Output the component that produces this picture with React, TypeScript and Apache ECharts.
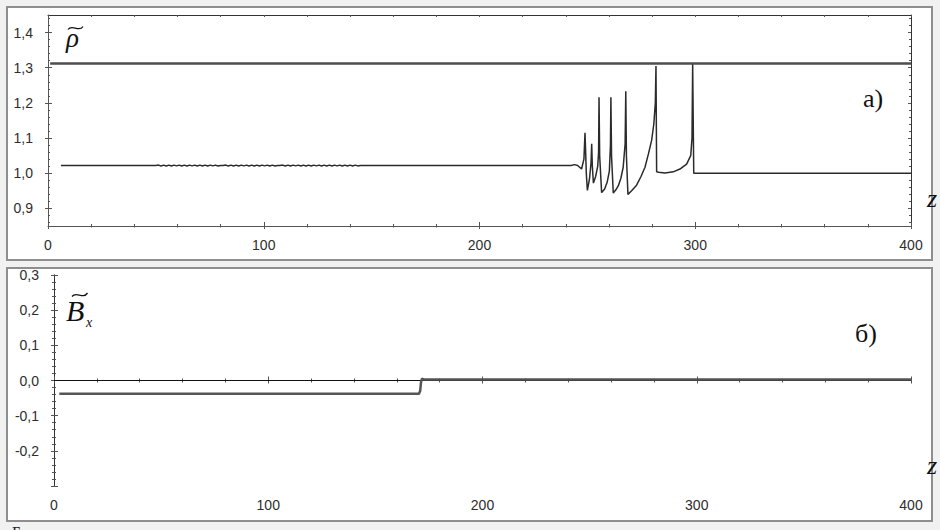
import React, { useEffect, useRef } from 'react';
import * as echarts from 'echarts';

// ---------- data ----------
const zLimits = [0, 400];
const rhoLimits = [0.85, 1.45];
const bxLimits = [-0.3, 0.3];
const rhoMajorValues = [0.9, 1.0, 1.1, 1.2, 1.3, 1.4];
const rhoMinorValues = [0.86, 0.88, 0.92, 0.94, 0.96, 0.98, 1.02, 1.04, 1.06, 1.08, 1.12, 1.14, 1.16, 1.18, 1.22, 1.24, 1.26, 1.28, 1.32, 1.34, 1.36, 1.38, 1.42, 1.44];

// upstream (compressed) density level
const rhoUpper: number[][] = [[1, 1.312], [400, 1.312]];

// density profile rho(z)
const rhoProfile: number[][] = [
  [6, 1.022], [50, 1.022],
  [51.2, 1.0232], [52.4, 1.0208], [53.6, 1.0232], [54.8, 1.0208], [56, 1.0232], [57.2, 1.0208], [58.4, 1.0231], [59.6, 1.0209],
  [60.8, 1.0232], [62, 1.0208], [63.2, 1.0232], [64.4, 1.0208], [65.6, 1.0231], [66.8, 1.0209], [68, 1.0232], [69.2, 1.0208],
  [70.4, 1.0232], [71.6, 1.0208], [72.8, 1.0232], [74, 1.0208], [75.2, 1.0231], [76.4, 1.0209], [77.6, 1.0232], [78.8, 1.0208],
  [80, 1.022], [81.2, 1.022], [82.4, 1.0232], [83.6, 1.0208], [84.8, 1.0232], [86, 1.0208], [87.2, 1.0232], [88.4, 1.0208],
  [89.6, 1.0231], [90.8, 1.0209], [92, 1.0232], [93.2, 1.0208], [94.4, 1.0232], [95.6, 1.0208], [96.8, 1.0232], [98, 1.0208],
  [99.2, 1.0231], [100.4, 1.0209], [101.6, 1.0232], [102.8, 1.0208], [104, 1.0232], [105.2, 1.0208], [106.4, 1.022], [107.6, 1.022],
  [108.8, 1.0232], [110, 1.0208], [111.2, 1.0232], [112.4, 1.0208], [113.6, 1.0231], [114.8, 1.0209], [116, 1.0232], [117.2, 1.0208],
  [118.4, 1.0232], [119.6, 1.0208], [120.8, 1.0232], [122, 1.0208], [123.2, 1.0231], [124.4, 1.0209], [125.6, 1.0232], [126.8, 1.0208],
  [128, 1.0232], [129.2, 1.0208], [130.4, 1.0232], [131.6, 1.0208], [132.8, 1.0231], [134, 1.0209], [135.2, 1.0232], [136.4, 1.0208],
  [137.6, 1.0232], [138.8, 1.0208], [140, 1.0232], [141.2, 1.0208], [142.4, 1.0231], [143.6, 1.0209], [144.8, 1.022],
  [242.5, 1.022], [244, 1.0245], [245.5, 1.022], [247.3, 1.012], [248.4, 1.04], [248.9, 1.115], [249.2, 1.06], [249.5, 1.0],
  [250, 0.951], [251, 0.985], [251.7, 1.03], [252, 1.084], [252.3, 1.02], [252.8, 0.972], [253.8, 0.99], [254.8, 1.02],
  [255.2, 1.06], [255.4, 1.216], [255.7, 1.05], [256.6, 0.945], [258, 0.955], [259.2, 0.975], [260.2, 1.007], [260.7, 1.08],
  [260.9, 1.216], [261.2, 1.05], [262, 0.944], [263.2, 0.953], [264.3, 0.964], [265.5, 0.985], [266.6, 1.017], [267.5, 1.084],
  [267.8, 1.233], [268.1, 1.05], [268.8, 0.94], [270.5, 0.95], [272.8, 0.966], [274.8, 0.99], [276.7, 1.017], [278.3, 1.055],
  [279.8, 1.094], [280.8, 1.14], [281.5, 1.2], [281.8, 1.305], [282.1, 1.004], [283, 1.003], [286, 1.0005], [289.8, 1.004],
  [292.9, 1.012], [296, 1.026], [297.9, 1.05], [298.5, 1.1], [298.8, 1.31], [299.3, 1.0], [400, 1.0],
];

// magnetic field component Bx(z)
const bxZero: number[][] = [[0, 0], [400, 0]];
const bxProfile: number[][] = [
  [2.5, -0.038], [170.3, -0.038], [170.9, -0.03], [171.3, -0.005], [171.7, 0.005], [172.5, 0.003], [400, 0.003],
];

// ---------- helpers ----------
const AX = '#555';
const LBL = '#2e2e2e';
const fmt = (v: number) => {
  const r = Math.round(v * 10) / 10;
  return (Math.abs(r) < 1e-9 ? '0.0' : r.toFixed(1)).replace('.', ',');
};
const labelStyle = { color: LBL, fontSize: 14, fontFamily: '"Liberation Sans", Arial, sans-serif' };

function xAxes(gridIndex: number) {
  const base = { gridIndex, type: 'value' as const, min: zLimits[0], max: zLimits[1], interval: 100, splitLine: { show: false }, minorSplitLine: { show: false } };
  return [
    { ...base, position: 'bottom', axisLine: { show: true, lineStyle: { color: AX, width: 1 } },
      axisTick: { show: true, inside: true, length: 4, lineStyle: { color: AX } },
      minorTick: { show: true, splitNumber: 5, length: 2, lineStyle: { color: AX } },
      axisLabel: { show: true, margin: 12, ...labelStyle } },
    { ...base, position: 'bottom', axisLine: { show: false },
      axisTick: { show: true, inside: false, length: 3, lineStyle: { color: AX } },
      minorTick: { show: true, splitNumber: 5, length: 1.5, lineStyle: { color: AX } },
      axisLabel: { show: false } },
    { ...base, position: 'top', axisLine: { show: true, lineStyle: { color: '#333', width: 1 } },
      axisTick: { show: true, inside: true, length: 2, lineStyle: { color: AX } },
      minorTick: { show: true, splitNumber: 5, length: 2, lineStyle: { color: AX } },
      axisLabel: { show: false } },
  ];
}

function App() {
  const ref = useRef<HTMLDivElement>(null);
  useEffect(() => {
    if (!ref.current) return;
    const chart = echarts.init(ref.current, undefined, { renderer: 'svg' });
    const rhoBase = { gridIndex: 0, type: 'value' as const, min: rhoLimits[0], max: rhoLimits[1], splitLine: { show: false } };
    const bxBase = { gridIndex: 1, type: 'value' as const, min: bxLimits[0], max: bxLimits[1], interval: 0.1, splitLine: { show: false }, minorSplitLine: { show: false } };
    const serif = '"Liberation Serif", "Times New Roman", serif';
    const option: any = {
      animation: false,
      backgroundColor: '#f1f1f1',
      grid: [
        { left: 48, top: 15, width: 863, height: 211 },
        { left: 54, top: 275, width: 857, height: 211 },
      ],
      xAxis: [...xAxes(0), ...xAxes(1)],
      yAxis: [
        // grid 0 (rho)
        { ...rhoBase, position: 'left', axisLine: { show: true, lineStyle: { color: AX } },
          axisTick: { show: true, inside: true, length: 4, customValues: rhoMajorValues, lineStyle: { color: AX } },
          axisLabel: { show: true, margin: 15, customValues: rhoMajorValues, formatter: fmt, ...labelStyle } },
        { ...rhoBase, position: 'left', axisLine: { show: false },
          axisTick: { show: true, inside: false, length: 3, customValues: rhoMajorValues, lineStyle: { color: AX } },
          axisLabel: { show: false } },
        { ...rhoBase, position: 'left', axisLine: { show: false },
          axisTick: { show: true, inside: true, length: 2, customValues: rhoMinorValues, lineStyle: { color: AX } },
          axisLabel: { show: false } },
        { ...rhoBase, position: 'right', axisLine: { show: true, lineStyle: { color: '#333' } },
          axisTick: { show: true, inside: true, length: 3, customValues: rhoMajorValues, lineStyle: { color: AX } },
          axisLabel: { show: false } },
        { ...rhoBase, position: 'right', axisLine: { show: false },
          axisTick: { show: true, inside: true, length: 2, customValues: rhoMinorValues, lineStyle: { color: AX } },
          axisLabel: { show: false } },
        // grid 1 (Bx)
        { ...bxBase, position: 'left', axisLine: { show: true, lineStyle: { color: AX } },
          axisTick: { show: true, inside: true, length: 4, lineStyle: { color: AX } },
          minorTick: { show: true, splitNumber: 5, length: 2, lineStyle: { color: AX } },
          axisLabel: { show: true, margin: 15, formatter: fmt, showMinLabel: false, ...labelStyle } },
        { ...bxBase, position: 'left', axisLine: { show: false },
          axisTick: { show: true, inside: false, length: 3, lineStyle: { color: AX } },
          minorTick: { show: true, splitNumber: 5, length: 1.5, lineStyle: { color: AX } },
          axisLabel: { show: false } },
        { ...bxBase, position: 'right', axisLine: { show: true, lineStyle: { color: '#333' } },
          axisTick: { show: true, inside: true, length: 3, lineStyle: { color: AX } },
          minorTick: { show: true, splitNumber: 5, length: 2, lineStyle: { color: AX } },
          axisLabel: { show: false } },
      ],
      series: [
        { type: 'line', xAxisIndex: 0, yAxisIndex: 0, data: rhoUpper, showSymbol: false, lineStyle: { color: '#4d4d4d', width: 2.5 }, z: 3 },
        { type: 'line', xAxisIndex: 0, yAxisIndex: 0, data: rhoProfile, showSymbol: false, lineStyle: { color: '#2b2b2b', width: 1.5 }, z: 4 },
        { type: 'line', xAxisIndex: 3, yAxisIndex: 5, data: bxZero, showSymbol: false, lineStyle: { color: '#111', width: 1 }, z: 3 },
        { type: 'line', xAxisIndex: 3, yAxisIndex: 5, data: bxProfile, showSymbol: false, lineStyle: { color: '#555', width: 2.5 }, z: 4 },
      ],
      graphic: [
        { type: 'rect', z: -10, shape: { x: 7, y: 7, width: 925, height: 253 }, style: { fill: '#fff', stroke: '#8e8e8e', lineWidth: 2 } },
        { type: 'rect', z: -10, shape: { x: 7, y: 268, width: 925, height: 253 }, style: { fill: '#fff', stroke: '#8e8e8e', lineWidth: 2 } },
        // rho with tilde
        { type: 'text', x: 66, y: 38, style: { text: 'ρ', font: `italic 27px ${serif}`, fill: '#111', verticalAlign: 'middle' } },
        { type: 'bezierCurve', shape: { x1: 68, y1: 29.5, cpx1: 72, cpy1: 23.5, cpx2: 79, cpy2: 33, x2: 83, y2: 26.5 }, style: { stroke: '#111', lineWidth: 1.3, fill: 'none' } },
        // B_x with tilde
        { type: 'text', x: 66, y: 310, style: { text: 'B', font: `italic 30px ${serif}`, fill: '#111', verticalAlign: 'middle' } },
        { type: 'bezierCurve', shape: { x1: 72, y1: 296.5, cpx1: 76.5, cpy1: 290.5, cpx2: 82.5, cpy2: 300, x2: 87.5, y2: 293 }, style: { stroke: '#111', lineWidth: 1.3, fill: 'none' } },
        { type: 'text', x: 86, y: 322, style: { text: 'x', font: `italic 14px ${serif}`, fill: '#111', verticalAlign: 'middle' } },
        // panel labels
        { type: 'text', x: 873, y: 98, style: { text: 'а)', font: `26px ${serif}`, fill: '#111', align: 'center', verticalAlign: 'middle' } },
        { type: 'text', x: 866, y: 333, style: { text: 'б)', font: `26px ${serif}`, fill: '#111', align: 'center', verticalAlign: 'middle' } },
        // z axis names
        { type: 'text', x: 932, y: 198, style: { text: 'z', font: `italic 26px ${serif}`, fill: '#111', align: 'center', verticalAlign: 'middle' } },
        { type: 'text', x: 932, y: 465, style: { text: 'z', font: `italic 26px ${serif}`, fill: '#111', align: 'center', verticalAlign: 'middle' } },
        // caption fragment at the bottom edge (cut off in the reference as well)
        { type: 'text', x: 12, y: 524, style: { text: 'Б', font: `16px ${serif}`, fill: '#222', verticalAlign: 'top' } },
      ],
    };
    chart.setOption(option);
    return () => chart.dispose();
  }, []);
  return <div ref={ref} style={{ width: 940, height: 530, position: 'absolute', left: 0, top: 0 }} />;
}

export default App;
